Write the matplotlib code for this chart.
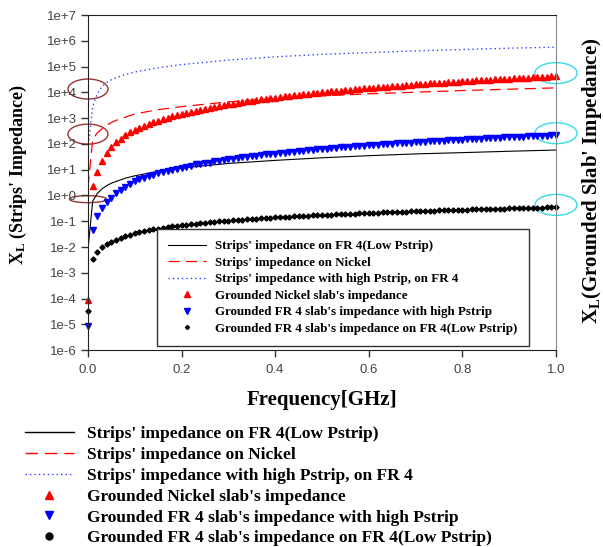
import matplotlib
matplotlib.use('Agg')
import matplotlib.pyplot as plt
import matplotlib.transforms as mtransforms
from matplotlib.patches import Ellipse
from matplotlib.lines import Line2D
from matplotlib.font_manager import FontProperties
from matplotlib.ticker import FixedLocator, NullLocator

plt.rcParams['mathtext.fontset'] = 'custom'
plt.rcParams['mathtext.rm'] = 'Liberation Serif:bold'
plt.rcParams['mathtext.it'] = 'Liberation Serif:bold'
plt.rcParams['mathtext.bf'] = 'Liberation Serif:bold'

# Frequency grid of the marker series [GHz]
freq = [0.00, 0.01, 0.02, 0.03, 0.04, 0.05, 0.06, 0.07, 0.08, 0.09,
        0.10, 0.11, 0.12, 0.13, 0.14, 0.15, 0.16, 0.17, 0.18, 0.19,
        0.20, 0.21, 0.22, 0.23, 0.24, 0.25, 0.26, 0.27, 0.28, 0.29,
        0.30, 0.31, 0.32, 0.33, 0.34, 0.35, 0.36, 0.37, 0.38, 0.39,
        0.40, 0.41, 0.42, 0.43, 0.44, 0.45, 0.46, 0.47, 0.48, 0.49,
        0.50, 0.51, 0.52, 0.53, 0.54, 0.55, 0.56, 0.57, 0.58, 0.59,
        0.60, 0.61, 0.62, 0.63, 0.64, 0.65, 0.66, 0.67, 0.68, 0.69,
        0.70, 0.71, 0.72, 0.73, 0.74, 0.75, 0.76, 0.77, 0.78, 0.79,
        0.80, 0.81, 0.82, 0.83, 0.84, 0.85, 0.86, 0.87, 0.88, 0.89,
        0.90, 0.91, 0.92, 0.93, 0.94, 0.95, 0.96, 0.97, 0.98, 0.99,
        1.00]

# Grounded Nickel slab's impedance (red triangles)
nickel_slab = [9e-5, 2.4, 8.5, 22, 45, 76, 115, 160, 215, 280,
               340, 420, 500, 590, 690, 800, 920, 1040, 1170, 1310,
               1460, 1620, 1790, 1960, 2150, 2340, 2540, 2750, 2970, 3200,
               3430, 3680, 3930, 4190, 4460, 4740, 5030, 5330, 5640, 5950,
               6280, 6610, 6960, 7310, 7670, 8040, 8420, 8810, 9200, 9610,
               10000, 10500, 10900, 11300, 11800, 12300, 12700, 13200, 13700, 14200,
               14700, 15200, 15800, 16300, 16800, 17400, 18000, 18500, 19100, 19700,
               20300, 20900, 21600, 22200, 22800, 23500, 24200, 24800, 25500, 26200,
               26900, 27600, 28300, 29100, 29800, 30600, 31300, 32100, 32900, 33700,
               34500, 35300, 36100, 36900, 37800, 38600, 39500, 40300, 41200, 42100,
               43000]

# Grounded FR 4 slab's impedance with high Pstrip (blue triangles)
fr4_slab_high = [8.5e-6, 0.044, 0.16, 0.33, 0.56, 0.83, 1.2, 1.6, 2.2, 2.8,
                 3.5, 4.2, 4.8, 5.6, 6.4, 7.2, 8.1, 9.1, 10, 11,
                 12, 13, 14, 16, 17, 18, 19, 21, 22, 24,
                 25, 27, 28, 30, 32, 33, 35, 37, 39, 40,
                 42, 44, 46, 48, 50, 52, 54, 57, 59, 61,
                 63, 65, 68, 70, 73, 75, 77, 80, 83, 85,
                 88, 90, 93, 96, 99, 101, 104, 107, 110, 113,
                 116, 119, 122, 125, 128, 131, 134, 137, 141, 144,
                 147, 151, 154, 157, 161, 164, 168, 171, 175, 179,
                 182, 186, 189, 193, 197, 201, 204, 208, 212, 216,
                 220]

# Grounded FR 4 slab's impedance on FR 4 (Low Pstrip) (black dots)
fr4_slab_low = [3.2e-5, 0.0034, 0.0066, 0.0099, 0.013, 0.016, 0.019, 0.023, 0.026, 0.030,
                0.034, 0.038, 0.042, 0.045, 0.049, 0.052, 0.056, 0.059, 0.063, 0.066,
                0.070, 0.073, 0.077, 0.080, 0.084, 0.087, 0.091, 0.094, 0.098, 0.101,
                0.105, 0.108, 0.112, 0.115, 0.119, 0.122, 0.126, 0.129, 0.133, 0.136,
                0.140, 0.143, 0.147, 0.150, 0.154, 0.157, 0.161, 0.164, 0.168, 0.171,
                0.175, 0.178, 0.182, 0.185, 0.189, 0.192, 0.196, 0.199, 0.203, 0.206,
                0.210, 0.213, 0.217, 0.220, 0.224, 0.227, 0.231, 0.234, 0.238, 0.241,
                0.245, 0.248, 0.252, 0.255, 0.259, 0.262, 0.266, 0.269, 0.273, 0.276,
                0.280, 0.283, 0.287, 0.290, 0.294, 0.297, 0.301, 0.304, 0.308, 0.311,
                0.315, 0.318, 0.322, 0.325, 0.329, 0.332, 0.336, 0.339, 0.343, 0.346,
                0.350]

# Strips' impedance curves
line_freq = [0.00, 0.01, 0.02, 0.03, 0.04, 0.05, 0.06, 0.08, 0.10, 0.15,
             0.20, 0.30, 0.40, 0.50, 0.60, 0.70, 0.80, 0.90, 1.00]
strip_fr4_low = [0.008, 0.6, 1.2, 1.8, 2.4, 3.0, 3.5, 4.7, 5.8, 8.7,
                 11.6, 17.5, 23, 29, 35, 41, 46, 52, 58]
strip_nickel = [2, 150, 270, 390, 520, 680, 820, 1100, 1450, 2150,
                2800, 4300, 5800, 7300, 8800, 10200, 11800, 13300, 15000]
strip_fr4_high = [63, 2800, 8900, 17000, 24000, 31000, 37000, 50000, 62000, 90000,
                  120000, 180000, 240000, 300000, 350000, 410000, 460000, 520000, 570000]

labels = ["Strips' impedance on FR 4(Low Pstrip)",
          "Strips' impedance on Nickel",
          "Strips' impedance with high Pstrip, on FR 4",
          "Grounded Nickel slab's impedance",
          "Grounded FR 4 slab's impedance with high Pstrip",
          "Grounded FR 4 slab's impedance on FR 4(Low Pstrip)"]

ytick_vals = [1e-6, 1e-5, 1e-4, 1e-3, 1e-2, 1e-1, 1e0, 1e1, 1e2, 1e3, 1e4, 1e5, 1e6, 1e7]
ytick_labels = ['1e-6', '1e-5', '1e-4', '1e-3', '1e-2', '1e-1', '1e+0',
                '1e+1', '1e+2', '1e+3', '1e+4', '1e+5', '1e+6', '1e+7']
xtick_vals = [0.0, 0.2, 0.4, 0.6, 0.8, 1.0]
xtick_labels = ['0.0', '0.2', '0.4', '0.6', '0.8', '1.0']

# highlighted regions (x, y) in data coords
left_marks = [(0.0, 1.35e4), (0.0, 2.4e2), (0.0, 0.72)]
left_sizes = [(0.40, 0.20), (0.40, 0.20), (0.37, 0.07)]
right_marks = [(1.0, 5.6e4), (1.0, 2.6e2), (1.0, 0.43)]

# Figure
fig = plt.figure(figsize=(6.03, 5.47), dpi=100)
ax = fig.add_axes([0.1459, 0.360, 0.7761, 0.6124])

ax.plot(line_freq, strip_fr4_low, color='black', lw=0.8)
ax.plot(line_freq, strip_nickel, color='red', lw=0.9, ls=(0, (9, 5)))
ax.plot(line_freq, strip_fr4_high, color='#3344ff', lw=1.0, ls=(0, (1, 2.2)))
ax.plot(freq, nickel_slab, ls='none', marker='^', ms=4.8, color='red', clip_on=False)
ax.plot(freq, fr4_slab_high, ls='none', marker='v', ms=4.8, color='blue', clip_on=False)
ax.plot(freq, fr4_slab_low, ls='none', marker='D', ms=2.6, color='black', clip_on=False)

ax.set_yscale('log')
ax.set_ylim(1e-6, 1e7)
ax.set_xlim(0, 1.0)
ax.yaxis.set_major_locator(FixedLocator(ytick_vals))
ax.yaxis.set_minor_locator(NullLocator())
ax.set_yticklabels(ytick_labels)
ax.set_xticks(xtick_vals)
ax.set_xticklabels(xtick_labels)
ax.tick_params(axis='both', direction='out', length=5, width=1, color='#333333',
               labelsize=9.5, labelcolor='#444444')
ax.tick_params(axis='y', pad=3)
ax.tick_params(axis='x', pad=5)
for lab in ax.get_xticklabels() + ax.get_yticklabels():
    lab.set_family('Liberation Sans')
for side in ['left', 'bottom', 'top']:
    ax.spines[side].set_color('#222222')
ax.spines['right'].set_color('#888888')

# ellipses
for (x, y), (w, h) in zip(left_marks, left_sizes):
    tr = fig.dpi_scale_trans + mtransforms.ScaledTranslation(x, y, ax.transData)
    ax.add_patch(Ellipse((0, 0), w, h, transform=tr, fill=False,
                         edgecolor='#993333', lw=1, clip_on=False))
for x, y in right_marks:
    tr = fig.dpi_scale_trans + mtransforms.ScaledTranslation(x, y, ax.transData)
    ax.add_patch(Ellipse((0, 0), 0.42, 0.21, transform=tr, fill=False,
                         edgecolor='#33dde8', lw=1, clip_on=False))

# inner legend
inner_font = FontProperties(family='Liberation Serif', weight='bold', size=9.4)
leg = ax.legend(labels, loc='upper left', bbox_to_anchor=(0.147, 0.361, 0.795, 0),
                mode='expand', prop=inner_font, numpoints=1, handlelength=2.9,
                handletextpad=0.7, labelspacing=0.33, borderpad=0.85, borderaxespad=0,
                fancybox=False, framealpha=1, markerscale=0.8)
leg.get_frame().set_edgecolor('#333333')
leg.get_frame().set_linewidth(1)

# axis labels
fig.text(0.5340, 1 - 400 / 547, 'Frequency[GHz]', ha='center', va='center',
         fontsize=15, fontweight='bold', family='Liberation Serif')
fig.text(18 / 603, 1 - 175 / 547, r"X$_{\rm L}$ (Strips' Impedance)", rotation=90,
         ha='center', va='center', fontsize=13, fontweight='bold', family='Liberation Serif')
fig.text(592 / 603, 1 - 181 / 547, r"X$_{\rm L}$(Grounded Slab' Impedance)", rotation=90,
         ha='center', va='center', fontsize=15, fontweight='bold', family='Liberation Serif')

# outer legend
outer_handles = [Line2D([], [], color='black', lw=1),
                 Line2D([], [], color='red', lw=1, ls=(0, (9, 5))),
                 Line2D([], [], color='#3344ff', lw=1, ls=(0, (1, 2.2))),
                 Line2D([], [], ls='none', marker='^', ms=6, color='red'),
                 Line2D([], [], ls='none', marker='v', ms=6, color='blue'),
                 Line2D([], [], ls='none', marker='o', ms=5, color='black')]
outer_font = FontProperties(family='Liberation Serif', weight='bold', size=12.5)
fig.legend(outer_handles, labels, loc='upper left', bbox_to_anchor=(25 / 603, 1 - 426 / 547),
           prop=outer_font, frameon=False, handlelength=2.8, handletextpad=0.75,
           labelspacing=0.27, borderpad=0, borderaxespad=0, numpoints=1)

fig.savefig('out.png', dpi=100)
